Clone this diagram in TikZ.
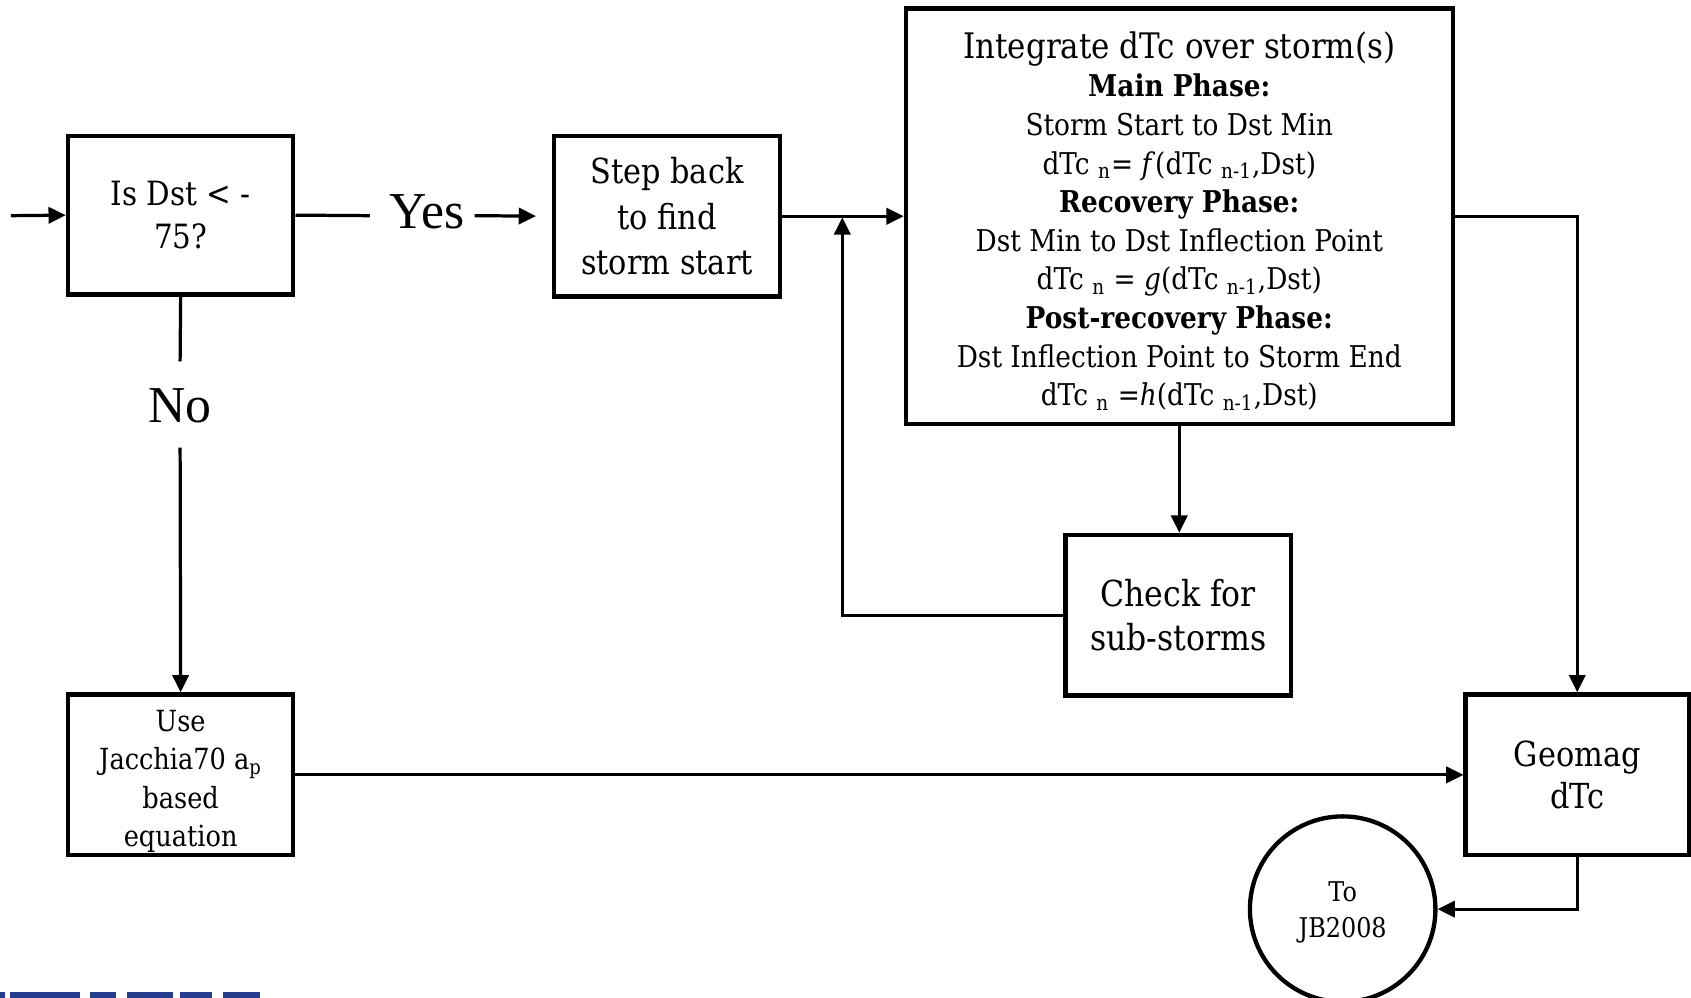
\documentclass[tikz,border=0pt]{standalone}
\usepackage{fontspec}
\setmainfont{Liberation Serif}
\newfontfamily\boxfont[FakeStretch=0.88]{DejaVu Serif}
\usetikzlibrary{arrows.meta}
\begin{document}
\begin{tikzpicture}[x=0.5pt,y=-0.5pt,
  box/.style={draw, line width=2pt, rectangle, align=center, inner sep=0pt},
  txt/.style={align=center, inner sep=0pt},
  conn/.style={line width=1.5pt},
  arr/.style={conn, -{Triangle[length=8pt,width=7.5pt]}},
  lbl/.style={inner sep=0pt, font=\fontsize{24}{28}\selectfont},
  logo/.style={fill={rgb,255:red,38;green,60;blue,140}, draw=none}]
\useasboundingbox (0,0) rectangle (1568,925);

% boxes
\node[box, minimum width=104.5pt, minimum height=73.5pt,
      font=\boxfont\fontsize{15.5}{20}\selectfont] (A) at (167.5,199.5) {Is Dst < -\\75?};
\node[box, minimum width=104.5pt, minimum height=74.5pt,
      font=\boxfont\fontsize{16}{21}\selectfont] (B) at (618.5,200.5) {Step back\\to find\\storm start};
\node[box, minimum width=253.5pt, minimum height=192.5pt] (C) at (1093.5,200.5) {};
\node[txt, font=\boxfont\fontsize{13.9}{17.9}\selectfont] (Ct) at (1093.5,205) {%
  {\fontsize{16.3}{17.9}\selectfont Integrate dTc over storm(s)}\\
  \textbf{Main Phase:}\\
  Storm Start to Dst Min\\
  dTc \textsubscript{n}= \textit{f}(dTc \textsubscript{n-1},Dst)\\
  \textbf{Recovery Phase:}\\
  Dst Min to Dst Inflection Point\\
  dTc \textsubscript{n} = \textit{g}(dTc \textsubscript{n-1},Dst)\\
  \textbf{Post-recovery Phase:}\\
  Dst Inflection Point to Storm End\\
  dTc \textsubscript{n} =\textit{h}(dTc \textsubscript{n-1},Dst)};
\node[box, minimum width=104.5pt, minimum height=74.5pt,
      font=\boxfont\fontsize{16.6}{20.5}\selectfont] (D) at (1092.5,570.5) {Check for\\sub-storms};
\node[box, minimum width=103.5pt, minimum height=74.5pt,
      font=\boxfont\fontsize{16}{19.5}\selectfont] (E) at (1462.5,718.5) {Geomag\\dTc};
\node[box, minimum width=104.5pt, minimum height=74.5pt] (F) at (167.5,718.5) {};
\node[txt, font=\boxfont\fontsize{13.5}{17.8}\selectfont] (Ft) at (167.5,724.5)
      {Use\\Jacchia70 a\textsubscript{p}\\based\\equation};
\node[draw, circle, line width=2pt, minimum size=86pt, inner sep=0pt] (G) at (1245,843) {};
\node[txt, font=\boxfont\fontsize{12.6}{16.5}\selectfont] (Gt) at (1245,846) {To\\JB2008};

% labels
\node[lbl] (yes) at (396,196) {Yes};
\node[lbl] (no) at (167,376) {No};

% free ends
\coordinate (in) at (10,200);
\coordinate (y1) at (343,200);
\coordinate (y2) at (440,200);
\coordinate (n1) at (167,335);
\coordinate (n2) at (167,415);
\coordinate (j) at (781,200);

% connectors
\draw[arr] (in) -- (A.west);
\draw[conn] (A.east) -- (y1);
\draw[arr, shorten >=7.5pt] (y2) -- (B.west);
\draw[arr] (B.east) -- (C.west);
\draw[arr] (C.south) -- (C.south |- D.north);
\draw[arr, shorten >=0.75pt] (D.west) -| (j);
\draw[arr] (C.east) -| (E.north);
\draw[conn] (A.south) -- (n1);
\draw[arr] (n2) -- (F.north);
\draw[arr] (F.east) -- (F.east -| E.west);
\draw[arr] (E.south) |- (G.east);

% cropped logo fragments
\fill[logo] (0,920) rectangle (5,925);
\fill[logo] (9,920) rectangle (74,925);
\fill[logo] (83,920) rectangle (108,925);
\fill[logo] (118,920) rectangle (160,925);
\fill[logo] (167,920) rectangle (197,925);
\fill[logo] (207,920) rectangle (241,925);
\end{tikzpicture}
\end{document}
